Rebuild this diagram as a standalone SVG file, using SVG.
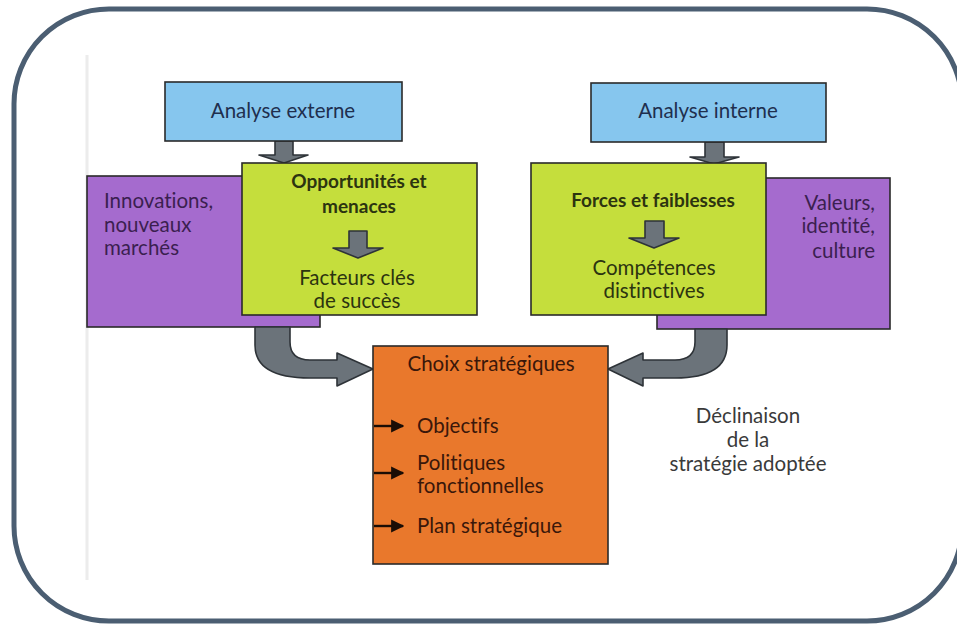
<svg xmlns="http://www.w3.org/2000/svg" width="957" height="627" viewBox="0 0 957 627">
  <style>
    .frame { fill: #ffffff; stroke: #4b5e72; stroke-width: 5; }
    .box { stroke: #2a2a2a; stroke-width: 1.6; }
    .blue { fill: #86c6ee; }
    .green { fill: #c5de3c; }
    .purple { fill: #a56bce; }
    .orange { fill: #e9782c; }
    .block { fill: #6b737a; stroke: #2e3338; stroke-width: 1.6; stroke-linejoin: round; }
    text { font-family: Lato, "Open Sans", "Liberation Sans", sans-serif; font-size: 20.5px; font-variant-ligatures: none; }
    .c { text-anchor: middle; }
    .r { text-anchor: end; }
    .navy { fill: #1f2f4e; }
    .olive { fill: #2c3410; }
    .plum { fill: #3b1f50; }
    .brown { fill: #3a170a; }
    .grey { fill: #3a3a3a; }
    .b { font-weight: bold; font-size: 19px; }
    .tick { stroke: #1a0d05; stroke-width: 2.4; }
  </style>
  <defs>
    <marker id="tip" viewBox="0 0 10 10" refX="9" refY="5" markerWidth="5.5" markerHeight="5.5" orient="auto">
      <path d="M0,0 L10,5 L0,10 z" fill="#1a0d05"/>
    </marker>
  </defs>

  <!-- outer rounded frame -->
  <rect class="frame" x="14" y="9" width="948" height="612" rx="95" ry="95"/>
  <line x1="87" y1="55" x2="87" y2="580" stroke="#ececec" stroke-width="3"/>

  <!-- side boxes (behind the green ones) -->
  <g id="innovations">
    <rect class="box purple" x="87" y="176" width="233" height="151"/>
    <text class="plum" x="104" y="208">Innovations,</text>
    <text class="plum" x="104" y="232">nouveaux</text>
    <text class="plum" x="104" y="255">marchés</text>
  </g>
  <g id="valeurs">
    <rect class="box purple" x="657" y="178" width="233" height="151"/>
    <text class="plum r" x="875" y="210">Valeurs,</text>
    <text class="plum r" x="875" y="233">identité,</text>
    <text class="plum r" x="875" y="258">culture</text>
  </g>

  <!-- connectors -->
  <g id="connectors">
    <path class="block" d="M275,141 H293 V155 H308 L284,163 L259,155 H275 Z"/>
    <path class="block" d="M705,142 H724 V157 H739 L714,164 L690,157 H705 Z"/>
    <path class="block" d="M255,327 H290 V342 Q290,360 310,360 H337 V353 L373,369 L337,386 V378 H310 Q255,378 255,345 Z"/>
    <path class="block" d="M727,329 H695 V342 Q695,360 675,360 H643 V353 L608,369 L643,386 V378 H675 Q727,378 727,345 Z"/>
  </g>

  <g id="analyse-externe">
    <rect class="box blue" x="165" y="82" width="237" height="59"/>
    <text class="navy c" x="283" y="118">Analyse externe</text>
  </g>
  <g id="analyse-interne">
    <rect class="box blue" x="591" y="83" width="235" height="59"/>
    <text class="navy c" x="708" y="118">Analyse interne</text>
  </g>

  <g id="opportunites">
    <rect class="box green" x="242" y="163" width="235" height="152"/>
    <text class="olive c b" x="359" y="188">Opportunités et</text>
    <text class="olive c b" x="359" y="213">menaces</text>
    <path class="block" d="M349,231 H367 V248 H383 L358,258 L333,248 H349 Z"/>
    <text class="olive c" x="357" y="285">Facteurs clés</text>
    <text class="olive c" x="357" y="308">de succès</text>
  </g>
  <g id="forces">
    <rect class="box green" x="531" y="163" width="235" height="152"/>
    <text class="olive c b" x="653" y="207">Forces et faiblesses</text>
    <path class="block" d="M645,221 H664 V238 H679 L654,248 L629,238 H645 Z"/>
    <text class="olive c" x="654" y="275">Compétences</text>
    <text class="olive c" x="654" y="298">distinctives</text>
  </g>

  <g id="choix">
    <rect class="box orange" x="373" y="346" width="235" height="218"/>
    <text class="brown c" x="491" y="371">Choix stratégiques</text>
    <line class="tick" x1="374" y1="426" x2="403" y2="426" marker-end="url(#tip)"/>
    <line class="tick" x1="374" y1="473" x2="403" y2="473" marker-end="url(#tip)"/>
    <line class="tick" x1="374" y1="526" x2="403" y2="526" marker-end="url(#tip)"/>
    <text class="brown" x="417" y="433">Objectifs</text>
    <text class="brown" x="417" y="470">Politiques</text>
    <text class="brown" x="417" y="493">fonctionnelles</text>
    <text class="brown" x="417" y="533">Plan stratégique</text>
  </g>

  <g id="declinaison">
    <text class="grey c" x="748" y="423">Déclinaison</text>
    <text class="grey c" x="748" y="447">de la</text>
    <text class="grey c" x="748" y="471">stratégie adoptée</text>
  </g>
</svg>
